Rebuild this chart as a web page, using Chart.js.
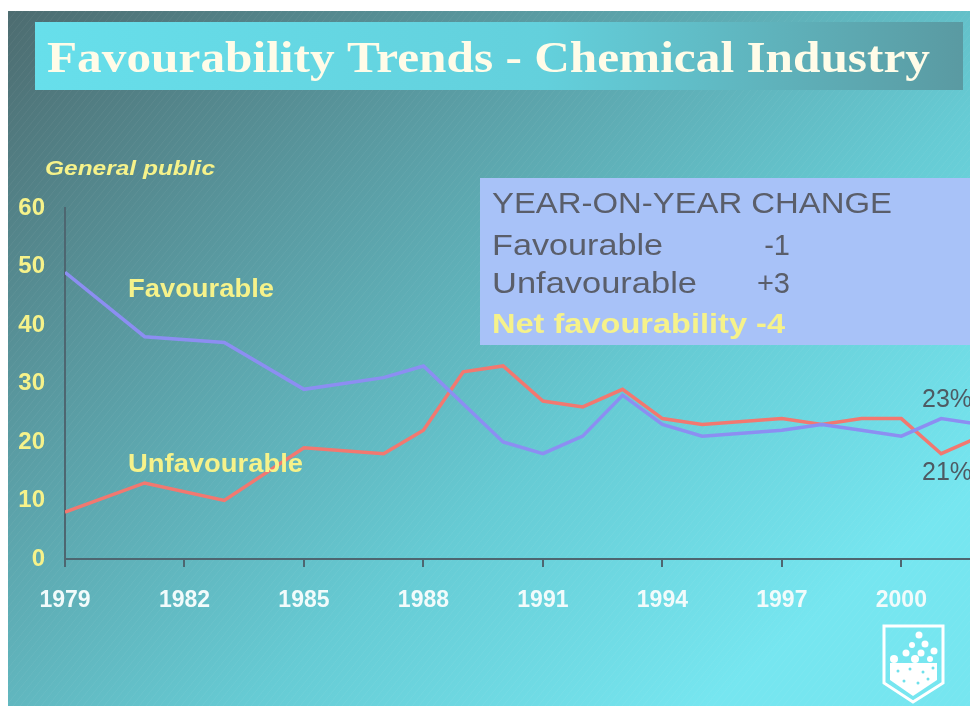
<!DOCTYPE html>
<html>
<head>
<meta charset="utf-8">
<title>Favourability Trends - Chemical Industry</title>
<script src="https://cdn.jsdelivr.net/npm/chart.js@4.4.1/dist/chart.umd.min.js"></script>
<style>
  html, body { margin: 0; padding: 0; background: #ffffff; overflow: hidden; width: 970px; height: 706px; }
  #slide { position: absolute; left: 8px; top: 11px; }
</style>
</head>
<body>
<canvas id="slide" width="1000" height="695"></canvas>
<script>
'use strict';

// ******** DATA **************
let years = [1979, 1981, 1983, 1985, 1987, 1988, 1989, 1990, 1991, 1992, 1993, 1994, 1995, 1997, 1998, 1999, 2000, 2001, 2002];
let favourable = [49, 38, 37, 29, 31, 33, null, 20, 18, 21, 28, 23, 21, 22, 23, 22, 21, 24, 23];
let unfavourable = [8, 13, 10, 19, 18, 22, 32, 33, 27, 26, 29, 24, 23, 24, 23, 24, 24, 18, 21];
let tickYears = [1979, 1982, 1985, 1988, 1991, 1994, 1997, 2000];
let yTicks = [0, 10, 20, 30, 40, 50, 60];

let changeRows = [
  ['Favourable', '-1'],
  ['Unfavourable', '+3']
];

// ******** COLOURS **************
let yellow = '#f6f28a';
let boxText = '#5a5e6a';
let blueLine = '#8c8ef2';
let redLine = '#f27870';

// ********* HELPERS ****************
function toPoints(values) {
  let pts = [];
  for (let i = 0; i < years.length; i++) {
    pts.push({ x: years[i], y: values[i] });
  }
  return pts;
}

// draws text squeezed/stretched to a given width
function fitText(ctx, text, x, y, w) {
  let m = ctx.measureText(text).width;
  ctx.save();
  ctx.translate(x, y);
  ctx.scale(w / m, 1);
  ctx.fillText(text, 0, 0);
  ctx.restore();
}

// ********* PLUGIN: slide background, boxes and labels ****************
let slidePlugin = {
  id: 'slide',
  beforeDraw(chart) {
    let ctx = chart.ctx;
    let w = chart.width, h = chart.height;
    ctx.save();
    let g = ctx.createLinearGradient(0, 0, 620, 760);
    g.addColorStop(0, '#4d6c70');
    g.addColorStop(0.35, '#5a9ca3');
    g.addColorStop(0.7, '#66cbd4');
    g.addColorStop(1, '#76e6f0');
    ctx.fillStyle = g;
    ctx.fillRect(0, 0, w, h);

    // faint diagonal hatch
    ctx.strokeStyle = 'rgba(255,255,255,0.05)';
    ctx.lineWidth = 1;
    for (let i = -h; i < w; i += 7) {
      ctx.beginPath();
      ctx.moveTo(i, h);
      ctx.lineTo(i + h * 0.8, 0);
      ctx.stroke();
    }

    // title bar
    let tg = ctx.createLinearGradient(27, 0, 955, 0);
    tg.addColorStop(0, '#67dfeb');
    tg.addColorStop(0.55, '#63d0dc');
    tg.addColorStop(0.8, '#5fb2bb');
    tg.addColorStop(1, '#5a9aa2');
    ctx.fillStyle = tg;
    ctx.fillRect(27, 11, 928, 68);

    ctx.fillStyle = '#fffce8';
    ctx.font = 'bold 44px "Liberation Serif", "DejaVu Serif", serif';
    ctx.textBaseline = 'alphabetic';
    fitText(ctx, 'Favourability Trends - Chemical Industry', 39, 61, 883);

    // year-on-year box
    ctx.fillStyle = '#a8c2f8';
    ctx.fillRect(472, 167, 528, 167);
    ctx.restore();
  },
  afterDraw(chart) {
    let ctx = chart.ctx;
    ctx.save();
    ctx.textBaseline = 'alphabetic';

    ctx.fillStyle = yellow;
    ctx.font = 'italic bold 21px "Liberation Sans", Arial, sans-serif';
    fitText(ctx, 'General public', 37, 164, 170);

    // box text
    ctx.fillStyle = boxText;
    ctx.font = '29px "Liberation Sans", Arial, sans-serif';
    fitText(ctx, 'YEAR-ON-YEAR CHANGE', 484, 202, 400);
    let rowY = [244, 282];
    let rowW = [171, 205];
    for (let i = 0; i < changeRows.length; i++) {
      fitText(ctx, changeRows[i][0], 484, rowY[i], rowW[i]);
      ctx.textAlign = 'right';
      ctx.fillText(changeRows[i][1], 782, rowY[i]);
      ctx.textAlign = 'left';
    }
    ctx.fillStyle = yellow;
    ctx.font = 'bold 28px "Liberation Sans", Arial, sans-serif';
    fitText(ctx, 'Net favourability -4', 484, 322, 293);

    // series labels
    ctx.font = 'bold 26px "Liberation Sans", Arial, sans-serif';
    fitText(ctx, 'Favourable', 120, 286, 146);
    fitText(ctx, 'Unfavourable', 120, 461, 175);

    // last values
    ctx.fillStyle = '#4e5a62';
    ctx.font = '25px "Liberation Sans", Arial, sans-serif';
    ctx.fillText(favourable[favourable.length - 1] + '%', 914, 396);
    ctx.fillText(unfavourable[unfavourable.length - 1] + '%', 914, 469);

    // shield logo
    ctx.strokeStyle = '#ffffff';
    ctx.fillStyle = '#ffffff';
    ctx.lineWidth = 3;
    ctx.beginPath();
    ctx.moveTo(876, 615);
    ctx.lineTo(935, 615);
    ctx.lineTo(935, 672);
    ctx.lineTo(905, 691);
    ctx.lineTo(876, 672);
    ctx.closePath();
    ctx.stroke();
    ctx.beginPath();
    ctx.moveTo(882, 652);
    ctx.lineTo(929, 652);
    ctx.lineTo(929, 669);
    ctx.lineTo(905, 685);
    ctx.lineTo(882, 669);
    ctx.closePath();
    ctx.fill();
    let dots = [[911, 624, 3.5], [917, 633, 3.5], [904, 634, 3], [926, 640, 3.5], [913, 642, 3.5], [898, 642, 3.5], [922, 648, 3], [886, 648, 4], [907, 648, 4]];
    for (let d of dots) {
      ctx.beginPath();
      ctx.arc(d[0], d[1], d[2], 0, Math.PI * 2);
      ctx.fill();
    }
    ctx.fillStyle = '#6fe0ea';
    let holes = [[890, 660], [902, 658], [915, 661], [925, 657], [896, 670], [910, 672], [920, 668]];
    for (let d of holes) {
      ctx.beginPath();
      ctx.arc(d[0], d[1], 1.5, 0, Math.PI * 2);
      ctx.fill();
    }
    ctx.restore();
  }
};

// ********* CHART ****************
let canvasElem = document.getElementById('slide');

let myObj = {
  type: 'line',
  data: {
    datasets: [{
      label: 'Favourable',
      data: toPoints(favourable),
      borderColor: blueLine,
      borderWidth: 3.5,
      pointRadius: 0,
      tension: 0,
      spanGaps: true
    },
    {
      label: 'Unfavourable',
      data: toPoints(unfavourable),
      borderColor: redLine,
      borderWidth: 3.5,
      pointRadius: 0,
      tension: 0
    }]
  },
  options: {
    responsive: false,
    animation: false,
    layout: {
      padding: { left: 0, top: 197, right: 27, bottom: 0 }
    },
    plugins: {
      legend: { display: false },
      tooltip: { enabled: false }
    },
    scales: {
      x: {
        type: 'linear',
        min: years[0],
        max: years[years.length - 1],
        afterBuildTicks: function (scale) {
          scale.ticks = tickYears.map(v => ({ value: v }));
        },
        afterFit: function (scale) {
          scale.height = 147;
        },
        border: { display: true, color: '#4d6670', width: 2 },
        grid: { drawOnChartArea: false, drawTicks: true, tickLength: 8, color: '#4d6670', lineWidth: 2 },
        ticks: {
          color: '#f2fbfb',
          padding: 20,
          maxRotation: 0,
          autoSkip: false,
          font: { family: '"Liberation Sans", Arial, sans-serif', size: 23, weight: 'bold' },
          callback: v => String(v)
        }
      },
      y: {
        min: yTicks[0],
        max: yTicks[yTicks.length - 1],
        afterBuildTicks: function (scale) {
          scale.ticks = yTicks.map(v => ({ value: v }));
        },
        afterFit: function (scale) {
          scale.width = 57;
        },
        border: { display: true, color: '#4d6670', width: 2 },
        grid: { drawOnChartArea: false, drawTicks: false },
        ticks: {
          color: yellow,
          padding: 20,
          font: { family: '"Liberation Sans", Arial, sans-serif', size: 24, weight: 'bold' }
        }
      }
    }
  },
  plugins: [slidePlugin]
};

new Chart(canvasElem, myObj);
</script>
</body>
</html>
